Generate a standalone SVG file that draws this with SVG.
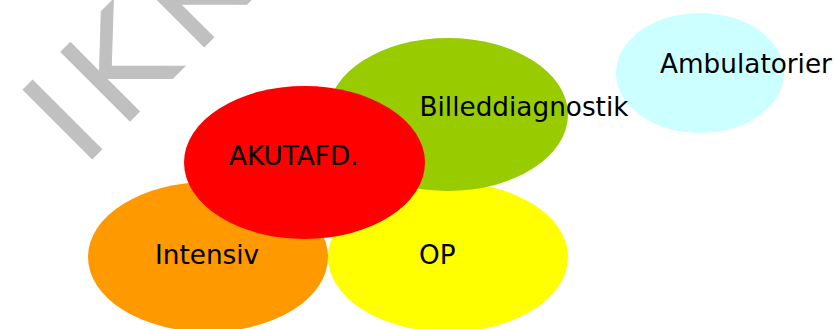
<svg xmlns="http://www.w3.org/2000/svg" width="835" height="329" viewBox="0 0 835 329">
<style>
.lbl{font-family:"DejaVu Sans",Verdana,sans-serif;font-size:26.3px;fill:#000}
.wm{font-family:"DejaVu Sans",Verdana,sans-serif;font-size:134px;fill:#c0c0c0;stroke:#c0c0c0;stroke-width:1}
</style>
<rect width="835" height="329" fill="#ffffff"/>
<g id="watermark">
<text class="wm" transform="translate(83,168) rotate(-45)" dx="0 14 17">IKK</text>
</g>
<g id="ambulatorier">
<ellipse cx="700" cy="73" rx="84" ry="60" fill="#ccffff"/>
<text class="lbl" x="660" y="73">Ambulatorier</text>
</g>
<g id="intensiv">
<ellipse cx="208" cy="257" rx="120" ry="75" fill="#ff9900"/>
<text class="lbl" x="155" y="264">Intensiv</text>
</g>
<g id="op">
<ellipse cx="448" cy="257" rx="120" ry="75" fill="#ffff00"/>
<text class="lbl" x="419" y="264">OP</text>
</g>
<g id="billeddiagnostik">
<ellipse cx="448" cy="114.5" rx="120" ry="76.5" fill="#99cc00"/>
<text class="lbl" x="419.5" y="116">Billeddiagnostik</text>
</g>
<g id="akutafd">
<ellipse cx="304.5" cy="162.5" rx="120.5" ry="76.5" fill="#ff0000"/>
<text class="lbl" x="229" y="165">AKUTAFD.</text>
</g>
<g id="connectors"/>
</svg>
